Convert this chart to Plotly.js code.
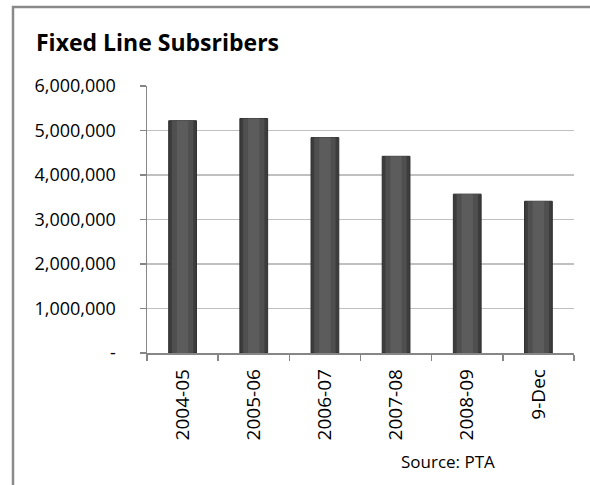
<!DOCTYPE html>
<html>
<head>
<meta charset="utf-8">
<script src="https://cdn.plot.ly/plotly-3.0.1.min.js"></script>
<style>html,body{margin:0;padding:0;background:#fff}#chart{width:590px;height:485px}</style>
</head>
<body>
<div id="chart"></div>
<script>
var categories = ['2004-05', '2005-06', '2006-07', '2007-08', '2008-09', '9-Dec'];
var subscribers = [5220000, 5270000, 4840000, 4420000, 3570000, 3410000];
var yTickVals = [0, 1000000, 2000000, 3000000, 4000000, 5000000, 6000000];
var yTickText = ['-', '1,000,000', '2,000,000', '3,000,000', '4,000,000', '5,000,000', '6,000,000'];
var chartTitle = 'Fixed Line Subsribers';
var sourceText = 'Source: PTA';

var FONT = '"Open Sans", sans-serif';

function barLayer(color, width, lineColor, lineWidth) {
  return {
    type: 'bar', x: categories, y: subscribers, width: width,
    marker: {color: color, line: {color: lineColor, width: lineWidth}},
    hoverinfo: 'skip', showlegend: false
  };
}

var traces = [
  barLayer('#3c3c3c', 0.39, '#2e2e2e', 1),
  barLayer('#4f4f4f', 0.30, 'rgba(0,0,0,0)', 0),
  barLayer('#5c5c5c', 0.16, 'rgba(0,0,0,0)', 0)
];

var layout = {
  width: 590, height: 485,
  margin: {l: 147, r: 16, t: 86, b: 132},
  paper_bgcolor: '#ffffff', plot_bgcolor: '#ffffff',
  barmode: 'overlay',
  font: {family: FONT, color: '#000', size: 18},
  title: {
    text: '<b>' + chartTitle + '</b>',
    font: {family: FONT, size: 23, color: '#000'},
    xref: 'container', yref: 'container',
    x: 36/590, xanchor: 'left', y: 1 - 43/485, yanchor: 'middle'
  },
  xaxis: {
    type: 'category',
    tickangle: -90,
    tickson: 'boundaries',
    ticks: 'outside', ticklen: 6, tickcolor: '#868686', tickwidth: 1.5,
    ticklabelstandoff: 7,
    showline: true, linecolor: '#868686', linewidth: 1.5,
    showgrid: false, zeroline: false,
    tickfont: {family: FONT, size: 19, color: '#000'},
    fixedrange: true
  },
  yaxis: {
    range: [0, 6000000],
    tickvals: yTickVals, ticktext: yTickText,
    ticks: 'outside', ticklen: 6, tickcolor: '#868686', tickwidth: 1.5,
    ticklabelstandoff: 20,
    showline: true, linecolor: '#868686', linewidth: 1.5,
    showgrid: true, gridcolor: '#c0c0c0', gridwidth: 1.5,
    zeroline: false,
    tickfont: {family: FONT, size: 18, color: '#000'},
    fixedrange: true
  },
  annotations: [{
    text: sourceText, xref: 'paper', yref: 'paper',
    x: (497 - 147)/427, xanchor: 'right', y: (353 - 461)/267, yanchor: 'middle',
    showarrow: false, font: {family: FONT, size: 17, color: '#000'}
  }],
  shapes: [{
    type: 'rect', xref: 'paper', yref: 'paper',
    x0: (13 - 147)/427, x1: 1.3, y0: -1, y1: (353 - 7)/267,
    line: {color: '#8a8a8a', width: 2.5}, fillcolor: 'rgba(0,0,0,0)', layer: 'below'
  }]
};

Plotly.newPlot('chart', traces, layout, {displayModeBar: false, staticPlot: true});
</script>
</body>
</html>
